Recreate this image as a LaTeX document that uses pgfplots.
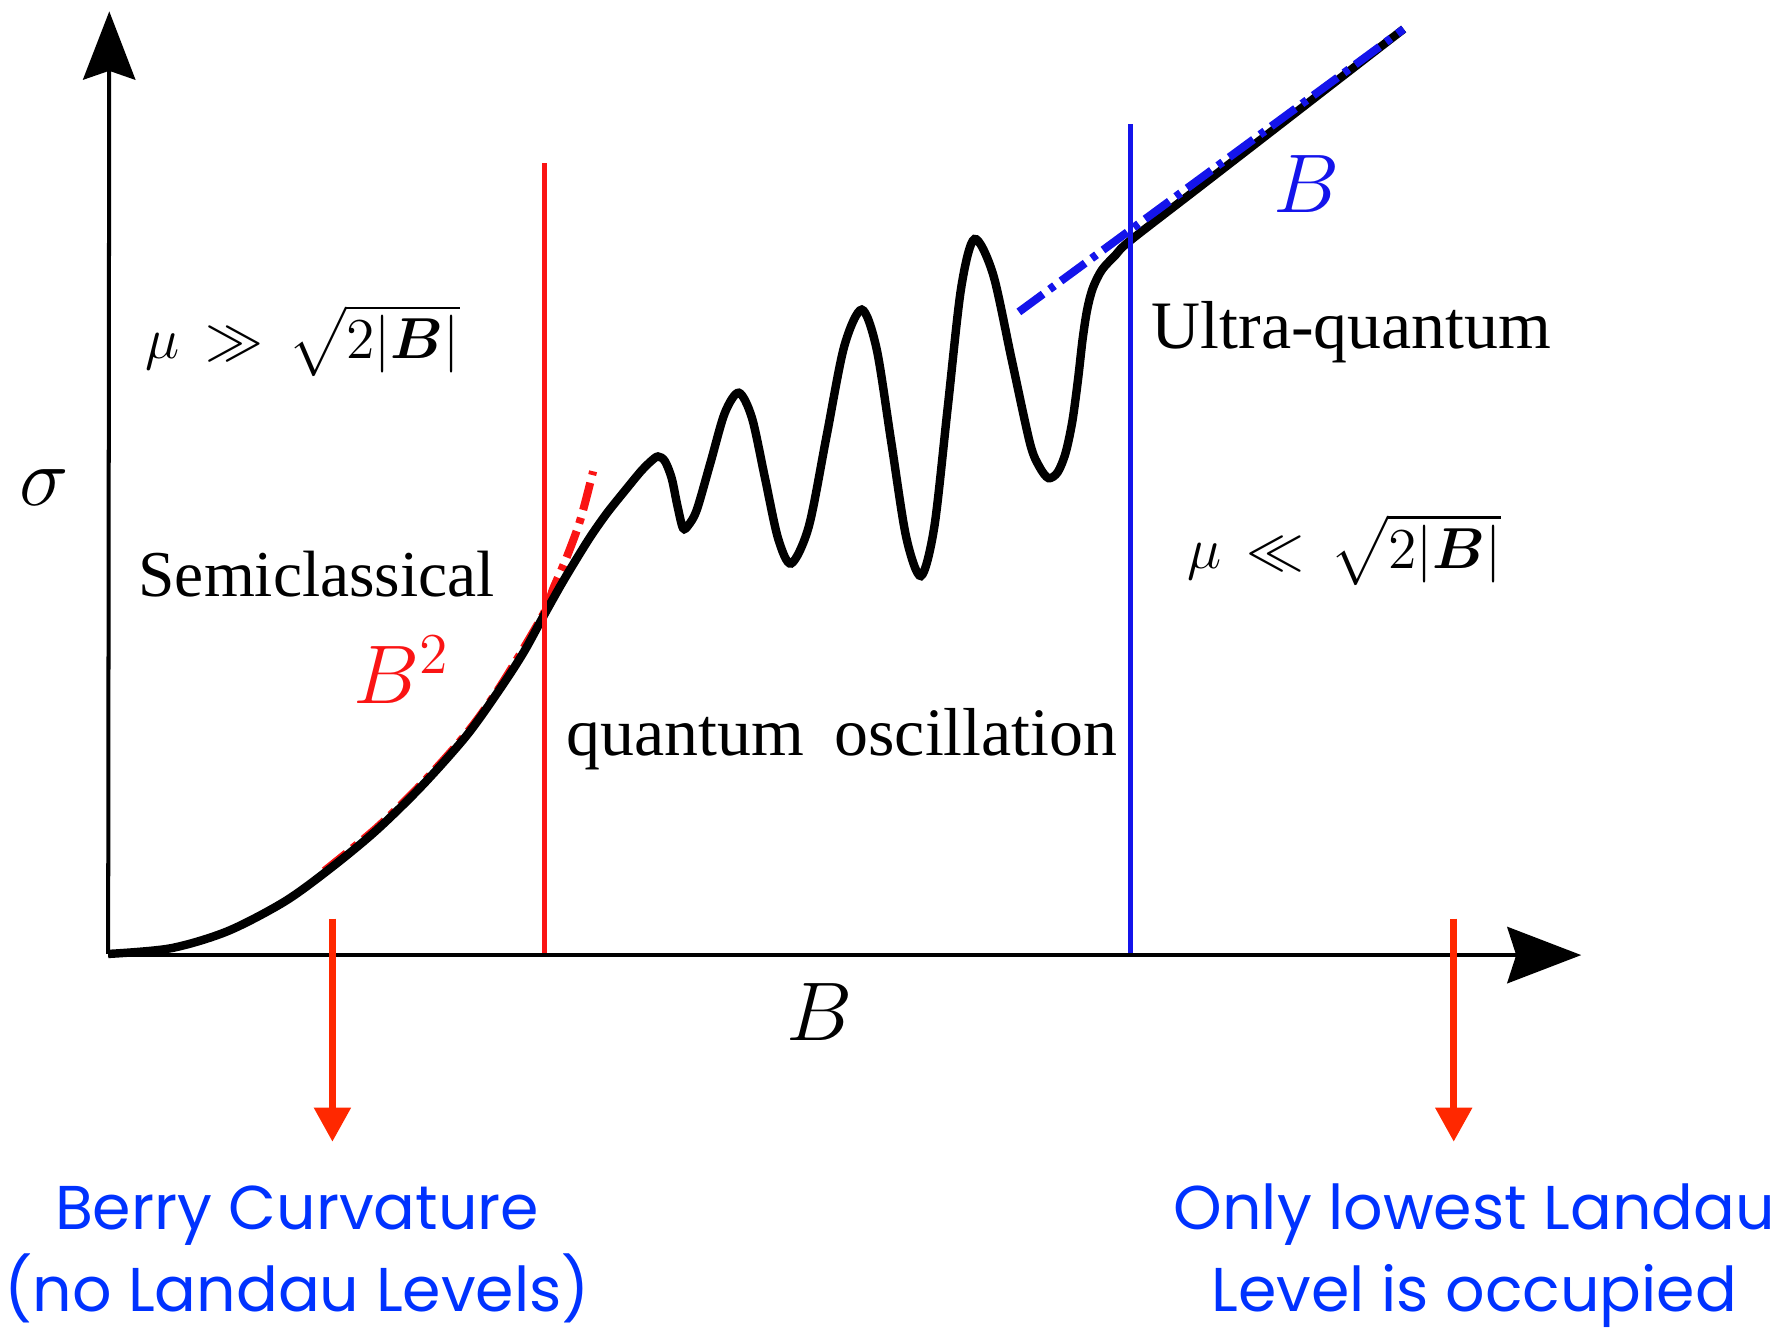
\documentclass[border=0pt]{standalone}
\usepackage{amsmath}
\usepackage[no-math]{fontspec}
\setmainfont{Liberation Serif}
\newfontfamily\notefont{Poppins}
\usepackage{pgfplots}
\pgfplotsset{compat=1.18}
\usetikzlibrary{arrows.meta}

\definecolor{arrowred}{RGB}{255,40,0}
\definecolor{noteblue}{RGB}{0,50,255}
\definecolor{lineblue}{RGB}{20,20,235}
\definecolor{linered}{RGB}{250,20,20}

% conductivity versus field: smooth rise, quantum oscillations, linear tail
\pgfplotstableread{
x y
0 0
55 5
105 20
155 46
195 75
235 108
275 147
315 192
345 234
365 265
382 296
400 328
422 364
438 387
454 407
468 424
477 433
483 437
489 433
495 418
500 394
505 374
510 377
517.25 390.6
529.5 433
541.75 475.4
554 493
565.5 471
577 418
588.5 365
600 343
615.5 375.6
631 454.5
646.5 533.4
662 566
675 531.7
688 449
701 366.3
714 332
725.75 375.3
737.5 480
749.25 584.7
761 628
777.25 597.3
793.5 523
809.75 448.7
818 428
826 418
834 423
841 440
847 468
852 505
856 540
860 566
865 585
873 601
885 614
897 626
957 672.4
1017 718.8
1077 765.3
1138 812.5
}\sigmacurve

% quadratic low-field fit
\pgfplotstableread{
x y
190 73
235 110
275 149
315 194
345 236
382 298
391 321
403 349
415 382
426 424
}\quadfit

% linear high-field fit
\pgfplotstableread{
x y
800 564
1138 812.5
}\linfit

\newcommand\bigtxt{\fontsize{20.74}{24}\selectfont}
\newcommand\midtxt{\fontsize{14.4}{17}\selectfont}
\newcommand\lbltxt{\fontsize{16.3}{19}\selectfont}
\newcommand\lbltxtb{\fontsize{16.9}{19}\selectfont}
\newcommand\notetxt{\notefont\fontsize{15.4}{19}\selectfont}

\begin{document}
\begin{tikzpicture}
\begin{axis}[name=ax, hide axis, clip=false,
  x=0.2835pt, y=0.2835pt,
  xmin=-95, xmax=1473, ymin=-328, ymax=838]

% fits
\addplot[linered, line width=2pt, smooth,
  dash pattern=on 7pt off 2pt on 1.5pt off 2pt] table {\quadfit};

% main curve
\addplot[black, line width=2.1pt, smooth] table {\sigmacurve};

\addplot[lineblue, line width=2pt,
  dash pattern=on 7.5pt off 2pt on 1.5pt off 2pt] table {\linfit};

% regime boundaries
\addplot[linered, line width=1.25pt] coordinates {(383,0) (383,695)};
\addplot[lineblue, line width=1.25pt] coordinates {(898,-2) (898,729)};

% axes
\addplot[black, line width=1pt,
  -{Stealth[length=17pt, width=13pt, inset=2.2pt]}] coordinates {(0,0) (1,828)};
\addplot[black, line width=1.1pt,
  -{Stealth[length=18.4pt, width=14pt, inset=2.2pt]}] coordinates {(0,-1) (1294,-1)};

% pointers to the two limits
\addplot[arrowred, line width=1.8pt,
  -{Triangle[length=8.5pt, width=8.8pt]}] coordinates {(197,31) (197,-165)};
\addplot[arrowred, line width=1.8pt,
  -{Triangle[length=8.5pt, width=8.8pt]}] coordinates {(1182,31) (1182,-165)};

% labels
\node[font=\bigtxt] at (axis cs:-56,410) {$\sigma$};
\node[font=\bigtxt, anchor=base west, inner sep=0pt] at (axis cs:595,-76) {$B$};
\node[font=\bigtxt, anchor=base west, inner sep=0pt, text=linered] at (axis cs:215,220) {$B^2$};
\node[font=\bigtxt, anchor=base west, inner sep=0pt, text=lineblue] at (axis cs:1023,651) {$B$};

\node[font=\midtxt, anchor=base west, inner sep=0pt] at (axis cs:32,523)
  {$\mu \,\gg\, \sqrt{2|\boldsymbol{B}|}$};
\node[font=\midtxt, anchor=base west, inner sep=0pt] at (axis cs:947,339)
  {$\mu \,\ll\, \sqrt{2|\boldsymbol{B}|}$};

\node[font=\lbltxt, anchor=base west, inner sep=0pt] at (axis cs:26,314) {Semiclassical};
\node[font=\lbltxtb, anchor=base west, inner sep=0pt] at (axis cs:402,174) {quantum\hspace{0.45em}oscillation};
\node[font=\lbltxtb, anchor=base west, inner sep=0pt] at (axis cs:916,532) {Ultra-quantum};

\node[font=\notetxt, anchor=base, text=noteblue] at (axis cs:166,-242) {Berry Curvature};
\node[font=\notetxt, anchor=base, text=noteblue] at (axis cs:166,-314) {(no Landau Levels)};
\node[font=\notetxt, anchor=base, text=noteblue] at (axis cs:1200,-242) {Only lowest Landau};
\node[font=\notetxt, anchor=base, text=noteblue] at (axis cs:1200,-314) {Level is occupied};

\end{axis}
\pgfresetboundingbox
\path (ax.south west) rectangle (ax.north east);
\end{tikzpicture}
\end{document}
